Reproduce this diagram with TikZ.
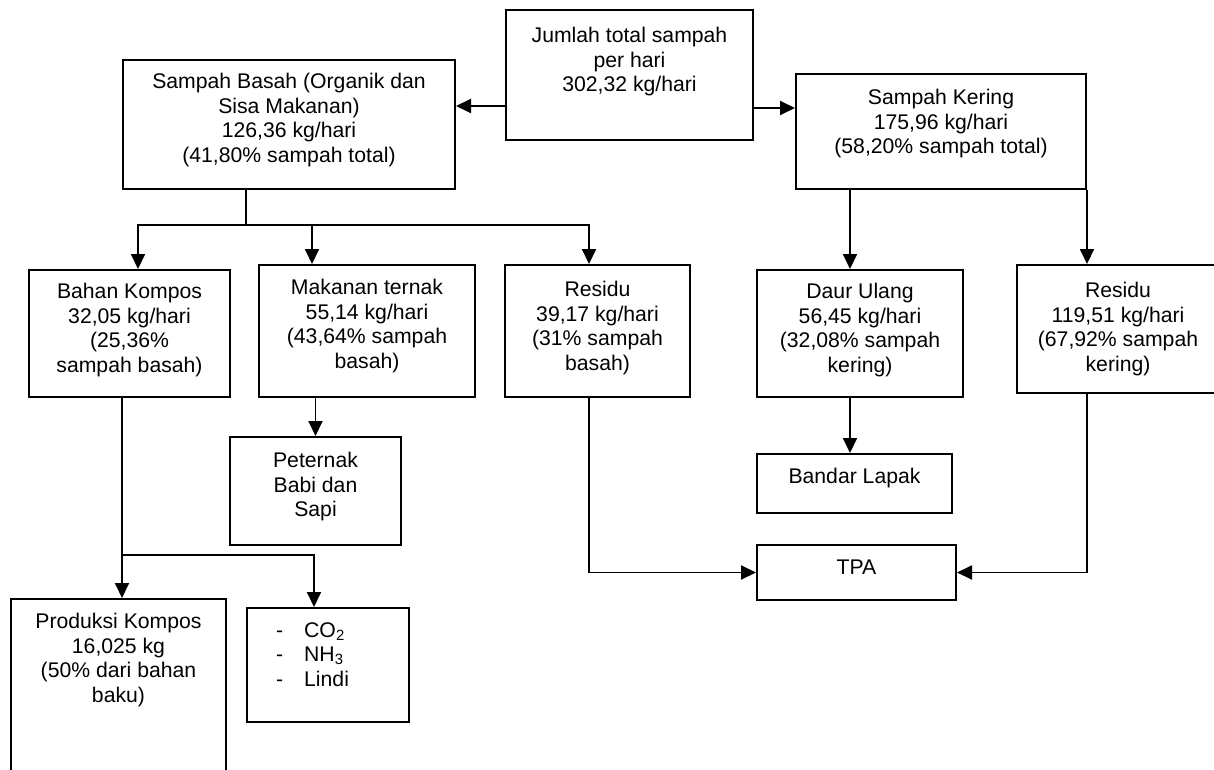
\documentclass[tikz,border=0pt]{standalone}
\usepackage{fontspec}
\setmainfont{Liberation Sans}
\usetikzlibrary{arrows.meta,positioning}
\tikzset{box/.style={draw,line width=2pt,anchor=north west,inner sep=0pt},
  txt/.style={inner sep=0pt,align=center,font=\fontsize{21.2}{24.6}\selectfont},
  link/.style={line width=1.9pt},
  arr/.style={line width=1.9pt,-{Triangle[width=14pt,length=15pt]}}}

\begin{document}
\begin{tikzpicture}[x=1pt,y=-1pt]
      \clip (0,0) rectangle (1214,770);
      \node[box,minimum width=247pt,minimum height=130pt] (total) at (505,9) {};
      \node[box,minimum width=332pt,minimum height=129pt] (basah) at (122,59) {};
      \node[box,minimum width=290pt,minimum height=115pt] (kering) at (795,73) {};
      \node[box,minimum width=201pt,minimum height=127pt] (bahan) at (28,269) {};
      \node[box,minimum width=216pt,minimum height=132pt] (makanan) at (258,264) {};
      \node[box,minimum width=185pt,minimum height=132pt] (residub) at (504,264) {};
      \node[box,minimum width=206pt,minimum height=127pt] (daur) at (756,269) {};
      \node[box,minimum width=202pt,minimum height=128pt] (residuk) at (1016,264) {};
      \node[box,minimum width=171pt,minimum height=108pt] (peternak) at (229,436) {};
      \node[box,minimum width=195pt,minimum height=59pt] (bandar) at (756,453) {};
      \node[box,minimum width=199pt,minimum height=55pt] (tpa) at (756,544) {};
      \node[box,minimum width=215pt,minimum height=200pt] (produksi) at (10,598) {};
      \node[box,minimum width=162pt,minimum height=114pt] (gas) at (246,607) {};

      \node[txt,below=18pt of total.north] (totaltxt) {Jumlah total sampah\\per hari\\302,32 kg/hari};
      \node[txt,below=14pt of basah.north] (basahtxt) {Sampah Basah (Organik dan\\Sisa Makanan)\\126,36 kg/hari\\(41,80\% sampah total)};
      \node[txt,below=16pt of kering.north] (keringtxt) {Sampah Kering\\175,96 kg/hari\\(58,20\% sampah total)};
      \node[txt,below=14pt of bahan.north] (bahantxt) {Bahan Kompos\\32,05 kg/hari\\(25,36\%\\sampah basah)};
      \node[txt,below=15pt of makanan.north] (makanantxt) {Makanan ternak\\55,14 kg/hari\\(43,64\% sampah\\basah)};
      \node[txt,below=17pt of residub.north] (residubtxt) {Residu\\39,17 kg/hari\\(31\% sampah\\basah)};
      \node[txt,below=14pt of daur.north] (daurtxt) {Daur Ulang\\56,45 kg/hari\\(32,08\% sampah\\kering)};
      \node[txt,below=18pt of residuk.north] (residuktxt) {Residu\\119,51 kg/hari\\(67,92\% sampah\\kering)};
      \node[txt,below=16pt of peternak.north] (peternaktxt) {Peternak\\Babi dan\\Sapi};
      \node[txt,below=15pt of bandar.north] (bandartxt) {Bandar Lapak};
      \node[txt,below=16pt of tpa.north] (tpatxt) {TPA};
      \node[txt,below=15pt of produksi.north] (produksitxt) {Produksi Kompos\\16,025 kg\\(50\% dari bahan\\baku)};
      \node[txt,align=left,below right=15pt and 30pt of gas.north west] (gastxt)
        {\makebox[28pt][l]{-}CO\textsubscript{2}\\\makebox[28pt][l]{-}NH\textsubscript{3}\\\makebox[28pt][l]{-}Lindi};

      \coordinate (tl) at ([yshift=35pt]total.south west);
      \coordinate (tr) at ([yshift=33pt]total.south east);
      \draw[arr] (tl) -- (tl -| basah.east);
      \draw[arr] (tr) -- (tr -| kering.west);

      \coordinate (bsplit) at (246,225);
      \draw[link] (bsplit |- basah.south) -- (bsplit);
\foreach \n/\dx in {bahan/8.5,makanan/-55,residub/-8.5}
  \draw[arr] (bsplit) -| ([xshift=\dx pt]\n.north);

      \coordinate (dx) at ([xshift=-10pt]daur.north);
      \draw[arr] (dx |- kering.south) -- (dx);
      \draw[arr] (dx |- daur.south) -- (dx |- bandar.north);
      \draw[arr] (kering.south east) -- (kering.south east |- residuk.north);
      \draw[arr] (kering.south east |- residuk.south) |- (tpa.east);

      \draw[arr] (peternak.north |- makanan.south) -- (peternak.north);
      \coordinate (rx) at ([xshift=-8.5pt]residub.south);
      \draw[arr] (rx) |- (tpa.west);

      \coordinate (ksplit) at (122,555);
      \draw[link] (ksplit |- bahan.south) -- (ksplit);
      \draw[arr] (ksplit) -- (ksplit |- produksi.north);
      \draw[arr] (ksplit) -| ([xshift=-14pt]gas.north);
    \end{tikzpicture}
\end{document}
